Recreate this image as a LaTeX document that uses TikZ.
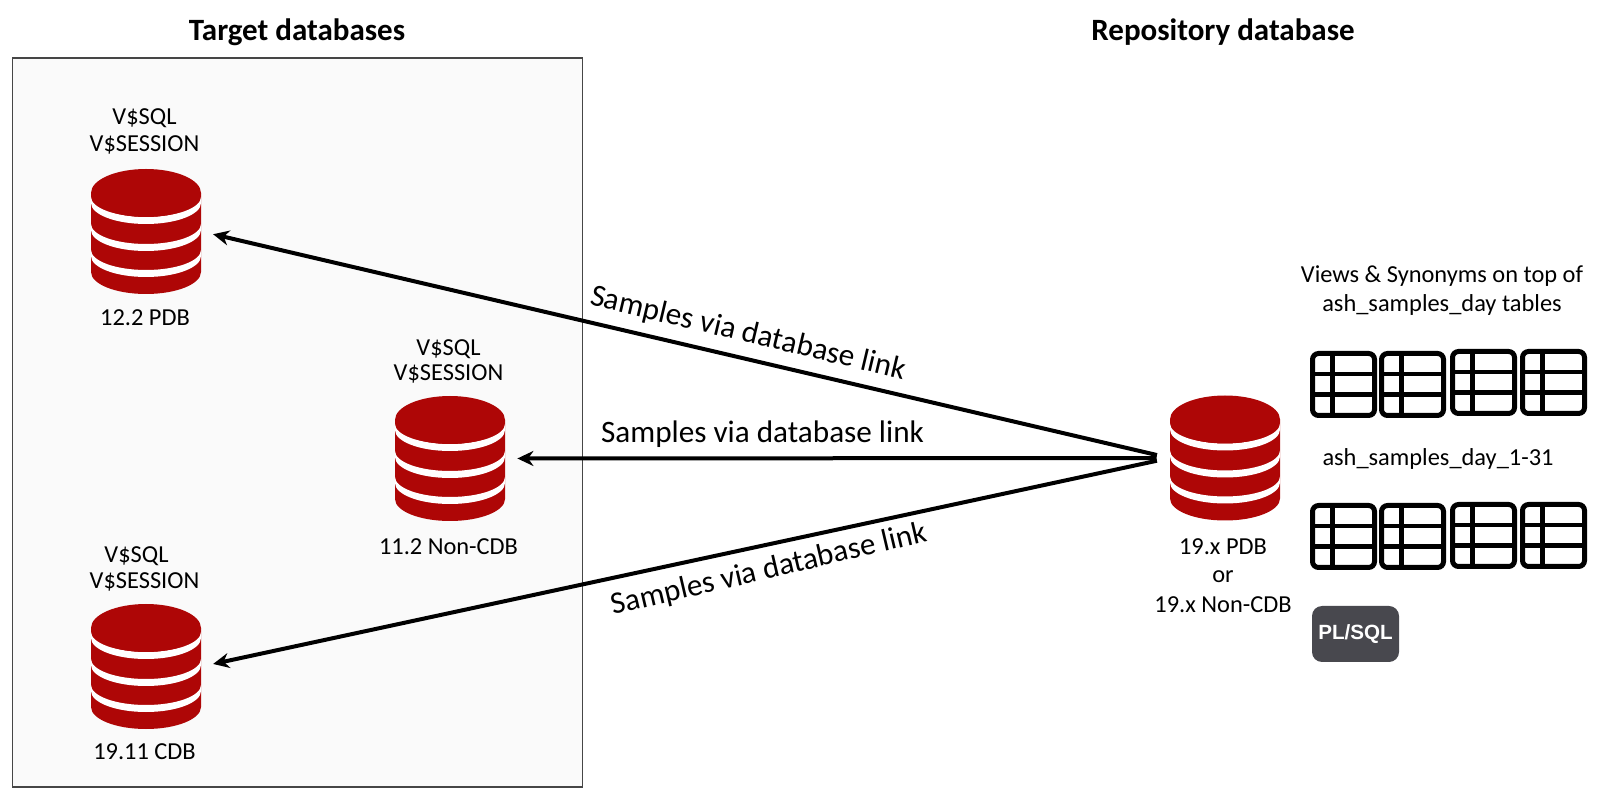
\documentclass[tikz,border=0pt]{standalone}
\usepackage{fontspec}
\setmainfont{Carlito}
\newfontfamily\plsqlfont{Liberation Sans}
\usepackage{tikz}
\usetikzlibrary{arrows.meta}
\definecolor{dbred}{RGB}{174,6,6}
\definecolor{framefill}{RGB}{250,250,250}
\definecolor{framegray}{RGB}{70,70,70}
\definecolor{plsqlgray}{RGB}{72,72,78}
\tikzset{
  dbnode/.style={inner sep=0pt,minimum width=55pt,minimum height=62.5pt},
  headtext/.style={font=\fontsize{15.5}{18}\selectfont\bfseries,inner sep=0pt},
  smalltext/.style={font=\fontsize{12.2}{14}\selectfont,inner sep=0pt},
  linktext/.style={font=\fontsize{15.6}{18}\selectfont,inner sep=0pt},
  linkarrow/.style={line width=2pt,-{Stealth[length=8pt,width=7.5pt]},shorten >=6pt,shorten <=6.5pt},
  tableline/.style={line width=2.5pt,rounded corners=3pt},
  tablegrid/.style={line width=2.3pt}
}
\newcommand{\drawdb}[3]{
  \begin{scope}[shift={(#2,#3)},x=.5pt,y=.5pt]
    \fill[dbred] (-55,38.5)--(-55,-40.5) arc[start angle=180,end angle=360,x radius=55,y radius=22]--(55,38.5)--cycle;
    \foreach \yy in {31.5,4.5,-21.5}{
      \fill[white] (-55,\yy-3) arc[start angle=180,end angle=360,x radius=55,y radius=21]--(55,\yy+3) arc[start angle=0,end angle=-180,x radius=55,y radius=20]--cycle;
    }
    \fill[dbred] (0,38.5) ellipse[x radius=55,y radius=24];
    \node[dbnode] (#1) at (0,0) {};
  \end{scope}
}
\newcommand{\drawtable}[2]{
  \draw[tableline] (#1+2.5,#2+2.5) rectangle (#1+64.5,#2+64.5);
  \draw[tablegrid] (#1+22.5,#2+2.5)--(#1+22.5,#2+64.5);
  \draw[tablegrid] (#1+2.5,#2+23)--(#1+64.5,#2+23);
  \draw[tablegrid] (#1+2.5,#2+43.5)--(#1+64.5,#2+43.5);
}
\begin{document}
\begin{tikzpicture}[x=.5pt,y=-.5pt]
\useasboundingbox (0,0) rectangle (1600,795);
\draw[framegray,fill=framefill,line width=.8pt] (12.5,58) rectangle (582.5,787);
\node[headtext] (targethead) at (297,32) {Target databases};
\node[headtext] (repohead) at (1223,32) {Repository database};
% target databases
\drawdb{pdbdb}{146}{231.5}
\drawdb{noncdbdb}{450}{458.5}
\drawdb{cdbdb}{146}{666.5}
\drawdb{repodb}{1225}{458}
\node[smalltext] (pdbsql) at (144.5,118) {V\$SQL};
\node[smalltext] (pdbsession) at (144.5,145) {V\$SESSION};
\node[smalltext] (pdblabel) at (145,318) {12.2 PDB};
\node[smalltext] (noncdbsql) at (448.5,349) {V\$SQL};
\node[smalltext] (noncdbsession) at (448.5,374) {V\$SESSION};
\node[smalltext] (noncdblabel) at (448.5,547) {11.2 Non-CDB};
\node[smalltext] (cdbsql) at (136.5,556) {V\$SQL};
\node[smalltext] (cdbsession) at (144.5,582) {V\$SESSION};
\node[smalltext] (cdblabel) at (144.5,752) {19.11 CDB};
% repository side
\node[smalltext] (repoa) at (1223,547) {19.x PDB};
\node[smalltext] (repob) at (1223,577) {or};
\node[smalltext] (repoc) at (1223,605) {19.x Non-CDB};
\node[smalltext] (viewsa) at (1442,276) {Views \& Synonyms on top of};
\node[smalltext] (viewsb) at (1442,305) {ash\_samples\_day tables};
\node[smalltext] (tablelabel) at (1438,459) {ash\_samples\_day\_1-31};
\foreach \x/\y in {1310/351,1379/351,1450/349,1520/349}{
  \drawtable{\x}{\y}
}
\foreach \x/\y in {1310/503,1379/503,1450/502,1520/502}{
  \drawtable{\x}{\y}
}
\node[fill=plsqlgray,rounded corners=5pt,minimum width=43.5pt,minimum height=28pt,inner sep=0pt,text=white,font=\plsqlfont\fontsize{10.3}{12}\selectfont\bfseries] (plsql) at (1355.5,634) {PL/SQL};
% links
\draw[linkarrow] (repodb.west)--(pdbdb.east);
\draw[linkarrow] (repodb.west)--(noncdbdb.east);
\draw[linkarrow] (repodb.west)--(cdbdb.east);
\node[linktext,rotate=-13.4] (linka) at (748,334) {Samples via database link};
\node[linktext] (linkb) at (762.5,434) {Samples via database link};
\node[linktext,rotate=13.2] (linkc) at (769,570) {Samples via database link};
\end{tikzpicture}
\end{document}
